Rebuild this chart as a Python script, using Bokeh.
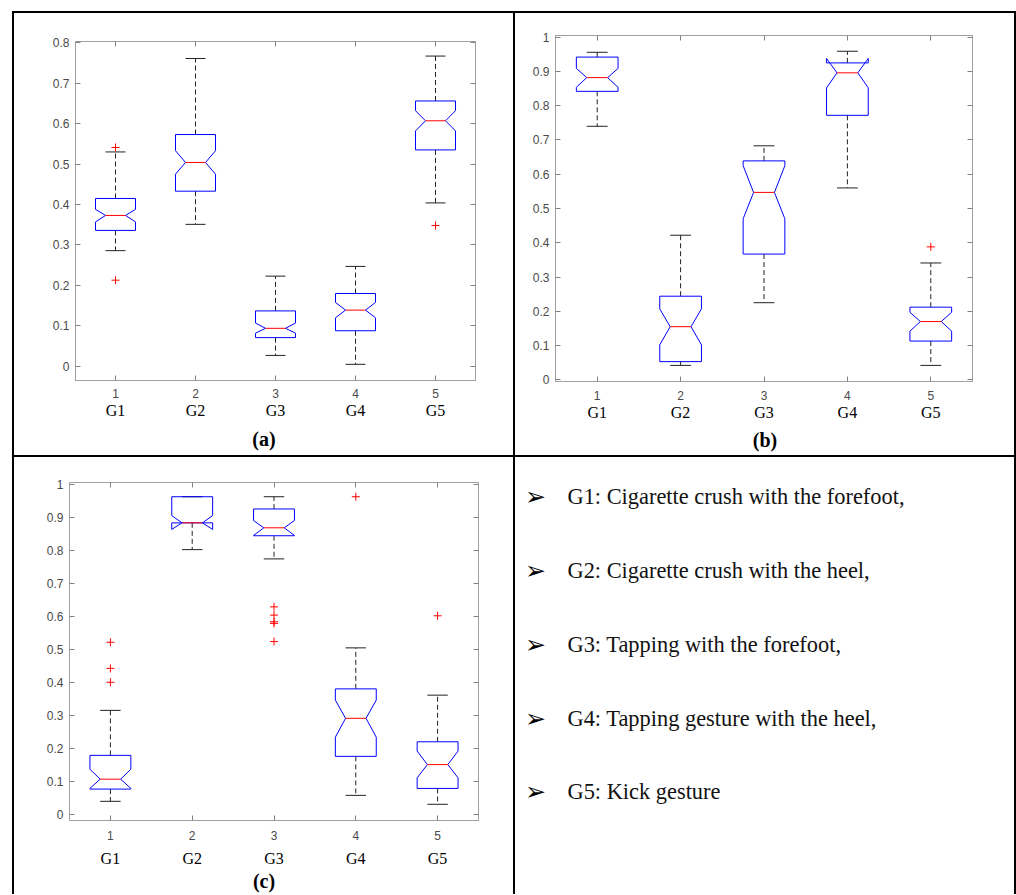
from bokeh.plotting import figure
from bokeh.models import LinearAxis, FixedTicker, Spacer, Range1d, ColumnDataSource
from bokeh.layouts import row, column
from bokeh.embed import file_html
from bokeh.resources import INLINE
from bokeh.core.properties import value

# ---------------- data ----------------
groups = ["G1", "G2", "G3", "G4", "G5"]
positions = [1, 2, 3, 4, 5]
pos_labels = ["1", "2", "3", "4", "5"]

yticks_a = [0.0, 0.1, 0.2, 0.3, 0.4, 0.5, 0.6, 0.7, 0.8]
ylabels_a = ["0", "0.1", "0.2", "0.3", "0.4", "0.5", "0.6", "0.7", "0.8"]
yticks_bc = [0.0, 0.1, 0.2, 0.3, 0.4, 0.5, 0.6, 0.7, 0.8, 0.9, 1.0]
ylabels_bc = ["0", "0.1", "0.2", "0.3", "0.4", "0.5", "0.6", "0.7", "0.8", "0.9", "1"]

# panel (a)
a_whisk_hi = [0.530, 0.761, 0.223, 0.247, 0.767]
a_q3 = [0.415, 0.573, 0.137, 0.180, 0.656]
a_notch_hi = [0.388, 0.533, 0.107, 0.158, 0.632]
a_med = [0.373, 0.504, 0.094, 0.139, 0.607]
a_notch_lo = [0.357, 0.475, 0.082, 0.120, 0.582]
a_q1 = [0.336, 0.433, 0.071, 0.088, 0.535]
a_whisk_lo = [0.286, 0.351, 0.027, 0.005, 0.404]
a_out_group = [1, 1, 5]
a_out_value = [0.541, 0.213, 0.348]

# panel (b)
b_whisk_hi = [0.956, 0.422, 0.683, 0.959, 0.341]
b_q3 = [0.942, 0.244, 0.639, 0.925, 0.212]
b_notch_hi = [0.909, 0.207, 0.625, 0.938, 0.197]
b_med = [0.882, 0.155, 0.547, 0.896, 0.170]
b_notch_lo = [0.854, 0.102, 0.470, 0.852, 0.142]
b_q1 = [0.842, 0.053, 0.367, 0.772, 0.113]
b_whisk_lo = [0.740, 0.042, 0.225, 0.560, 0.042]
b_out_group = [5]
b_out_value = [0.388]

# panel (c)
c_whisk_hi = [0.316, 0.962, 0.962, 0.505, 0.362]
c_q3 = [0.180, 0.962, 0.925, 0.381, 0.221]
c_notch_hi = [0.138, 0.905, 0.890, 0.347, 0.193]
c_med = [0.108, 0.883, 0.868, 0.292, 0.152]
c_notch_lo = [0.080, 0.863, 0.845, 0.235, 0.112]
c_q1 = [0.078, 0.883, 0.844, 0.177, 0.080]
c_whisk_lo = [0.041, 0.802, 0.774, 0.059, 0.032]
c_out_group = [1, 1, 1, 3, 3, 3, 3, 3, 4, 5]
c_out_value = [0.522, 0.443, 0.401, 0.629, 0.604, 0.584, 0.579, 0.524, 0.962, 0.602]

captions = ["(a)", "(b)", "(c)"]

legend_items = [
    "G1: Cigarette crush with the forefoot,",
    "G2: Cigarette crush with the heel,",
    "G3: Tapping with the forefoot,",
    "G4: Tapping gesture with the heel,",
    "G5: Kick gesture",
]

# ---------------- style ----------------
BOX_HW = 0.25
NOTCH_IN = 0.125
CAP_HW = 0.125
FRAME_COLOR = "#a0a0a0"
TICK_COLOR = "#808080"
LABEL_COLOR = "#4a4a4a"
SANS = "Liberation Sans"
SERIF = "Liberation Serif"


def axis(ticks, labels, size="12px", standoff=6, tick_in=5, font=SANS, color=LABEL_COLOR,
         line=True, style="normal"):
    return LinearAxis(
        ticker=FixedTicker(ticks=ticks),
        major_label_overrides=dict(zip(ticks, labels)),
        major_tick_in=tick_in, major_tick_out=0,
        minor_tick_line_color=None,
        major_tick_line_color=TICK_COLOR if tick_in else None,
        axis_line_color=FRAME_COLOR if line else None,
        major_label_text_font=font,
        major_label_text_font_size=size,
        major_label_text_font_style=style,
        major_label_text_color=color,
        major_label_standoff=standoff,
        axis_label=None, axis_label_standoff=0,
    )


def panel(w, h, borders, yr, yticks, ylabels, whi, q3, nhi, med, nlo, q1, wlo,
          og, ov, caption, cap_x, offs):
    bl, br, bt, bb = borders
    p = figure(width=w, height=h, x_range=Range1d(0.5, 5.5), y_range=Range1d(*yr),
               output_backend="svg", toolbar_location=None, title=None,
               x_axis_type=None, y_axis_type=None, frame_align=False,
               min_border_left=bl, min_border_right=br,
               min_border_top=bt, min_border_bottom=bb,
               outline_line_color=FRAME_COLOR, background_fill_color="white",
               border_fill_color="white")
    p.add_layout(axis(yticks, ylabels), "left")
    p.add_layout(axis(yticks, ["" for _ in ylabels], size="0px", standoff=0), "right")
    p.add_layout(axis(positions, ["" for _ in pos_labels], size="0px", standoff=0), "above")
    p.add_layout(axis(positions, pos_labels, standoff=offs[0]), "below")
    p.add_layout(axis(positions, groups, size="16px", standoff=offs[1], tick_in=0,
                      font=SERIF, color="black", line=False), "below")
    p.add_layout(axis([cap_x], [caption], size="20px", standoff=offs[2], tick_in=0,
                      font=SERIF, color="black", line=False, style="bold"), "below")

    # notched boxes
    xs, ys = [], []
    for x, a1, a2, a3, a4, a5 in zip(positions, q1, nlo, med, nhi, q3):
        L, R = x - BOX_HW, x + BOX_HW
        xs.append([L, L, L + NOTCH_IN, L, L, R, R, R - NOTCH_IN, R, R, L])
        ys.append([a1, a2, a3, a4, a5, a5, a4, a3, a2, a1, a1])

    px = positions
    p.segment(x0=px, y0=q3, x1=px, y1=whi, line_color="#222222", line_width=1, line_dash="5 3")
    p.segment(x0=px, y0=q1, x1=px, y1=wlo, line_color="#222222", line_width=1, line_dash="5 3")
    p.segment(x0=[x - CAP_HW for x in px], y0=whi, x1=[x + CAP_HW for x in px], y1=whi,
              line_color="#222222", line_width=1)
    p.segment(x0=[x - CAP_HW for x in px], y0=wlo, x1=[x + CAP_HW for x in px], y1=wlo,
              line_color="#222222", line_width=1)
    p.multi_line(xs=xs, ys=ys, line_color="#0000ff", line_width=1)
    p.segment(x0=[x - BOX_HW + NOTCH_IN for x in px], y0=med,
              x1=[x + BOX_HW - NOTCH_IN for x in px], y1=med,
              line_color="#ff0000", line_width=1)
    p.scatter(x=og, y=ov, marker="cross", size=8, line_color="#ff0000", line_width=1)
    return p


TOP_H = 442
BOT_H = 437
CELL_W = 499

pa = panel(CELL_W, TOP_H, (61, 38, 28, 75), (-0.035, 0.803), yticks_a, ylabels_a,
           a_whisk_hi, a_q3, a_notch_hi, a_med, a_notch_lo, a_q1, a_whisk_lo,
           a_out_group, a_out_value, captions[0], 2.856, (8, 1, 6))
pb = panel(CELL_W, TOP_H, (40, 42, 22, 74), (-0.005, 1.005), yticks_bc, ylabels_bc,
           b_whisk_hi, b_q3, b_notch_hi, b_med, b_notch_lo, b_q1, b_whisk_lo,
           b_out_group, b_out_value, captions[1], 3.012, (9, 1, 5))
pc = panel(CELL_W, BOT_H, (55, 35, 25, 73), (-0.017, 1.005), yticks_bc, ylabels_bc,
           c_whisk_hi, c_q3, c_notch_hi, c_med, c_notch_lo, c_q1, c_whisk_lo,
           c_out_group, c_out_value, captions[2], 2.878, (10, 7, 0))

# legend cell
pd = figure(width=CELL_W, height=BOT_H, x_range=Range1d(0, CELL_W), y_range=Range1d(BOT_H, 0),
            output_backend="svg", toolbar_location=None, x_axis_type=None, y_axis_type=None,
            title=None, frame_align=False, min_border=0, min_border_left=0,
            min_border_right=0, min_border_top=0, min_border_bottom=0,
            outline_line_color=None, background_fill_color="white",
            border_fill_color="white")
row_y = [39.3 + 73.75 * i for i in range(len(legend_items))]
src = ColumnDataSource(dict(y=row_y, t=legend_items, b=["\u27a2"] * len(legend_items)))
pd.text(x=20, y="y", text="b", source=src, text_font=value("DejaVu Sans"),
        text_font_size="25px", text_align="center", text_baseline="alphabetic",
        text_color="black")
pd.text(x=52, y="y", text="t", source=src, text_font=value(SERIF),
        text_font_size="22.4px", text_align="left", text_baseline="alphabetic",
        text_color="#111111")

BLACK = {"background-color": "black"}


def vline(h):
    return Spacer(width=2, height=h, styles=BLACK)


layout = column(
    Spacer(width=1016, height=11),
    row(Spacer(width=12, height=2), Spacer(width=1004, height=2, styles=BLACK)),
    row(Spacer(width=12, height=TOP_H), vline(TOP_H), pa, vline(TOP_H), pb, vline(TOP_H)),
    row(Spacer(width=12, height=2), Spacer(width=1004, height=2, styles=BLACK)),
    row(Spacer(width=12, height=BOT_H), vline(BOT_H), pc, vline(BOT_H), pd, vline(BOT_H)),
)

open("out.html", "w").write(file_html(layout, INLINE))
